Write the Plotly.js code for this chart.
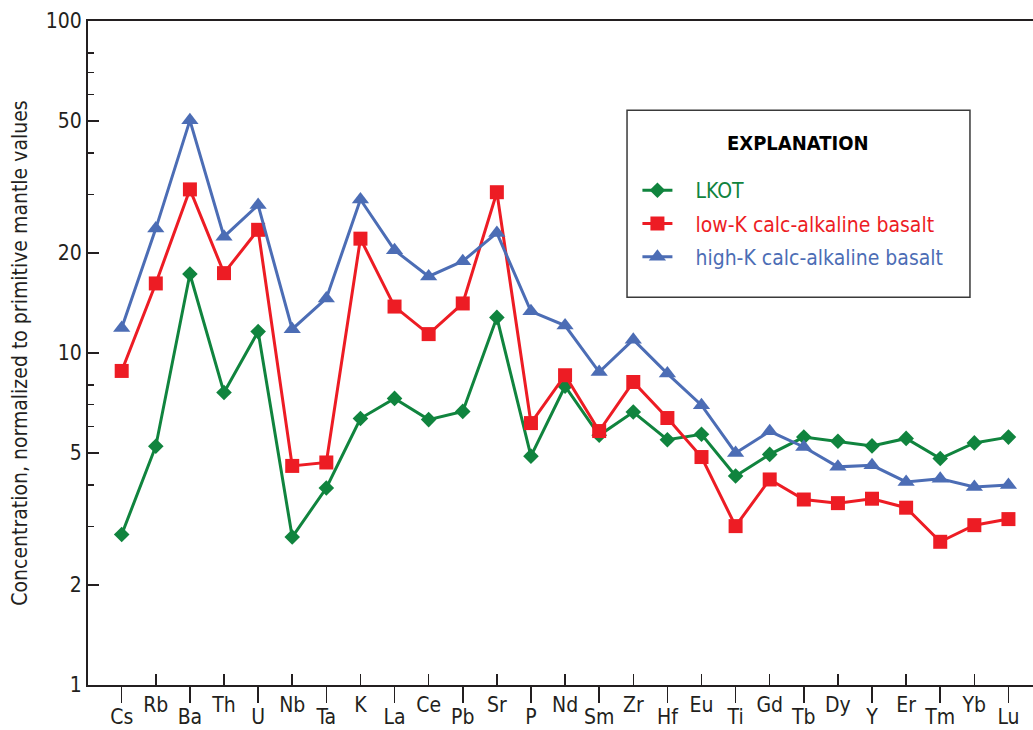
<!DOCTYPE html>
<html>
<head>
<meta charset="utf-8">
<script src="https://cdn.plot.ly/plotly-3.0.1.min.js"></script>
<style>
  html, body { margin: 0; padding: 0; background: #ffffff; }
  #chart { width: 1033px; height: 730px; }
</style>
</head>
<body>
<div id="chart"></div>
<script>
// Trace elements, ordered as on a primitive-mantle-normalized spider diagram
const categories = ['Cs','Rb','Ba','Th','U','Nb','Ta','K','La','Ce','Pb','Sr','P','Nd',
                    'Sm','Zr','Hf','Eu','Ti','Gd','Tb','Dy','Y','Er','Tm','Yb','Lu'];

// Concentrations normalized to primitive mantle values
const lkot = [2.84, 5.24, 17.3, 7.6, 11.6, 2.79, 3.92, 6.35, 7.3, 6.3, 6.67, 12.8, 4.89, 7.94,
              5.65, 6.64, 5.48, 5.69, 4.26, 4.95, 5.58, 5.42, 5.25, 5.53, 4.81, 5.36, 5.58];
const lowK = [8.83, 16.2, 31.1, 17.4, 23.5, 4.57, 4.68, 22.1, 13.8, 11.4, 14.1, 30.5, 6.15, 8.57,
              5.82, 8.18, 6.37, 4.86, 3.01, 4.16, 3.62, 3.53, 3.64, 3.42, 2.70, 3.03, 3.16];
const highK = [11.9, 23.7, 50.2, 22.4, 27.9, 11.8, 14.6, 29.0, 20.4, 17.0, 18.9, 23.0, 13.35, 12.1,
               8.76, 10.97, 8.67, 6.96, 5.0, 5.81, 5.21, 4.54, 4.59, 4.09, 4.18, 3.95, 4.0];

const seriesNames = ['LKOT', 'low-K calc-alkaline basalt', 'high-K calc-alkaline basalt'];

// Y-axis tick labels (log scale) and unlabeled minor ticks
const yTickVals = [1, 2, 5, 10, 20, 50, 100];
const yTickText = ['1', '2', '5', '10', '20', '50', '100'];
const yMinorVals = [3, 4, 6, 7, 8, 30, 40, 60, 70, 80];

const FONT = '"Liberation Sans Narrow", "DejaVu Sans Condensed", "Arial Narrow", sans-serif';
const INK = '#231f20';
const GREEN = '#10843e';
const RED = '#ed1c24';
const BLUE = '#4c6db5';
const GAP = '\u00A0\u00A0\u00A0';

const xIdx = categories.map((_, i) => i);
const evenIdx = xIdx.filter(i => i % 2 === 0);
const oddIdx = xIdx.filter(i => i % 2 === 1);

function series(name, values, color, symbol, size, group) {
  return {
    type: 'scatter',
    mode: 'lines+markers',
    x: xIdx,
    y: values,
    name: GAP + '<span style="color:' + color + '">' + name + '</span>',
    legendgroup: group,
    line: { color: color, width: 3 },
    marker: { color: color, symbol: symbol, size: size, line: { width: 0 } },
    hoverinfo: 'x+y'
  };
}

const traces = [
  series(seriesNames[0], lkot, GREEN, 'diamond', 12, 'g1'),
  series(seriesNames[1], lowK, RED, 'square', 14, 'g2'),
  series(seriesNames[2], highK, BLUE, 'triangle-up', 15, 'g3'),
  // transparent copy bound to the staggered (inner-tick) category axis so it is rendered
  { type: 'scatter', mode: 'lines', x: xIdx, y: lkot, xaxis: 'x2', yaxis: 'y',
    line: { color: 'rgba(0,0,0,0)', width: 0 }, showlegend: false, hoverinfo: 'skip' }
];

const xRange = [-0.988, 26.72];

const layout = {
  width: 1033,
  height: 730,
  margin: { l: 88, r: 0, t: 21, b: 45 },
  paper_bgcolor: '#ffffff',
  plot_bgcolor: '#ffffff',
  font: { family: FONT, size: 21, color: INK },
  showlegend: true,
  legend: {
    x: 0.5814, y: 0.7755, xanchor: 'left', yanchor: 'top',
    bgcolor: 'rgba(0,0,0,0)', borderwidth: 0,
    font: { family: FONT, size: 21 },
    tracegroupgap: 3,
    itemclick: false, itemdoubleclick: false
  },
  xaxis: {
    range: xRange,
    tickmode: 'array',
    tickvals: evenIdx,
    ticktext: evenIdx.map(i => categories[i]),
    ticks: 'outside', ticklen: 16, tickwidth: 1.5, tickcolor: INK,
    ticklabelstandoff: -4,
    showline: true, linecolor: INK, linewidth: 2, mirror: true,
    showgrid: false, zeroline: false,
    tickfont: { family: FONT, size: 21, color: INK }
  },
  xaxis2: {
    overlaying: 'x', anchor: 'y', side: 'bottom',
    range: xRange,
    tickmode: 'array',
    tickvals: oddIdx,
    ticktext: oddIdx.map(i => categories[i]),
    ticks: 'inside', ticklen: 11, tickwidth: 1.5, tickcolor: INK,
    ticklabelstandoff: 5,
    showline: false, showgrid: false, zeroline: false,
    tickfont: { family: FONT, size: 21, color: INK }
  },
  yaxis: {
    type: 'log',
    range: [0, 2],
    tickmode: 'array',
    tickvals: yTickVals,
    ticktext: yTickText,
    ticks: 'inside', ticklen: 11, tickwidth: 1.5, tickcolor: INK,
    minor: { tickmode: 'array', tickvals: yMinorVals, ticks: 'inside', ticklen: 6, tickwidth: 1.5, tickcolor: INK, showgrid: false },
    showline: true, linecolor: INK, linewidth: 2,
    showgrid: false, zeroline: false,
    tickfont: { family: FONT, size: 21, color: INK },
    title: { text: 'Concentration, normalized to primitive mantle values', font: { family: FONT, size: 21, color: INK }, standoff: 12 }
  },
  shapes: [
    { type: 'rect', xref: 'paper', yref: 'paper', x0: 0.5704, x1: 0.9333, y0: 0.5839, y1: 0.8655,
      line: { color: '#3a3a3a', width: 1.5 }, fillcolor: 'rgba(0,0,0,0)', layer: 'below' }
  ],
  annotations: [
    { xref: 'paper', yref: 'paper', x: 0.7513, y: 0.8158, xanchor: 'center', yanchor: 'middle',
      text: '<b>EXPLANATION</b>', showarrow: false, font: { family: FONT, size: 20, color: '#000000' } }
  ]
};

Plotly.newPlot('chart', traces, layout, { staticPlot: true, displayModeBar: false });
</script>
</body>
</html>
